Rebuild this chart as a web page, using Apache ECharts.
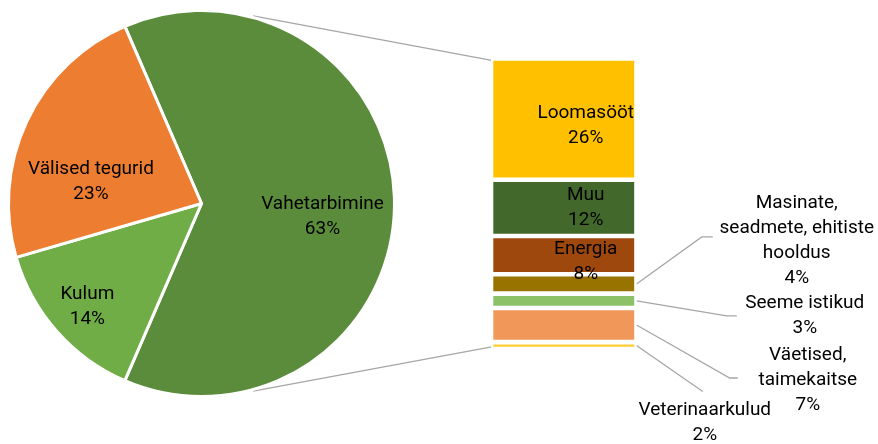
<!DOCTYPE html>
<html>
<head>
<meta charset="utf-8">
<script src="https://cdn.jsdelivr.net/npm/echarts@6/dist/echarts.min.js"></script>
<style>
html, body { margin: 0; padding: 0; background: #fff; }
#chart { width: 878px; height: 444px; }
</style>
</head>
<body>
<div id="chart"></div>
<script>
var pieNames = ['Vahetarbimine', 'Kulum', 'Välised tegurid'];
var pieValues = [63, 14, 23];
var barNames = ['Loomasööt', 'Muu', 'Energia', 'Masinate,\nseadmete, ehitiste\nhooldus', 'Seeme istikud', 'Väetised,\ntaimekaitse', 'Veterinaarkulud'];
var barValues = [26.3, 12.2, 8.3, 4.2, 3.1, 7.4, 1.5];
var pieColors = ['#5b8c3b', '#70ad47', '#ed7d31'];
var barColors = ['#ffc000', '#43682b', '#9e480e', '#997300', '#8cc168', '#f1975a', '#ffcd33'];

// layout
var PIE_CX = 201.5, PIE_CY = 203.5, PIE_R = 193;
var GRID_LEFT = 491, GRID_TOP = 58.4, GRID_W = 145.5, GRID_H = 290.6;
var BAR_BORDER = 2.3;
var LINE_ANGLE = 74.6;

// label shifts (px) from the default inside position
var pieLabelShift = [[21.5, 13.5], [-39.5, 37], [-20.5, 21]];
var barLabelShift = [[22, 7], [22, 0], [22, 7], [233, -43], [241, 15], [244, 55], [141, 77]];
// leader line: elbow dx, dy, end dx, dy relative to label centre
var leaderPts = [null, null, null, [-95, -4, -84, -4], [-78, 0, -68, 0], [-78, -2, -70, -2], [-2, -31, -2, -31]];

var total = pieValues.reduce(function (a, b) { return a + b; }, 0);
var barTotal = barValues.reduce(function (a, b) { return a + b; }, 0);

var textStyle = { fontFamily: 'Roboto', fontSize: 19, lineHeight: 25, color: '#000' };

var chart = echarts.init(document.getElementById('chart'));

var series = [{
  type: 'pie',
  center: [PIE_CX, PIE_CY],
  radius: PIE_R,
  startAngle: pieValues[0] / total * 180,
  clockwise: true,
  silent: true,
  data: pieNames.map(function (n, i) {
    return { name: n, value: pieValues[i], itemStyle: { color: pieColors[i] } };
  }),
  itemStyle: { borderColor: '#fff', borderWidth: 3 },
  label: Object.assign({
    show: true,
    position: 'inside',
    formatter: function (p) { return p.name + '\n' + Math.round(p.percent) + '%'; }
  }, textStyle),
  labelLine: { show: false },
  labelLayout: function (p) {
    return { dx: pieLabelShift[p.dataIndex][0], dy: pieLabelShift[p.dataIndex][1] };
  }
}];

barNames.forEach(function (n, i) {
  series.push({
    type: 'bar',
    name: n,
    stack: 'vahe',
    barWidth: '100%',
    silent: true,
    data: [barValues[i]],
    itemStyle: { color: barColors[i], borderColor: '#fff', borderWidth: BAR_BORDER },
    label: Object.assign({
      show: true,
      position: 'inside',
      align: 'center',
      formatter: n + '\n' + Math.round(barValues[i] / total * 100) + '%'
    }, textStyle),
    labelLayout: { dx: barLabelShift[i][0], dy: barLabelShift[i][1] }
  });
});

// connector lines
var lineStyle = { stroke: '#a6a6a6', lineWidth: 1.3, fill: null };
var graphics = [];
var a = LINE_ANGLE * Math.PI / 180;
var rr = PIE_R + 1.5;
var px = PIE_CX + rr * Math.cos(a);
graphics.push({
  type: 'polyline', silent: true,
  shape: { points: [[px, PIE_CY - rr * Math.sin(a)], [GRID_LEFT + 2, GRID_TOP + BAR_BORDER]] },
  style: lineStyle
});
graphics.push({
  type: 'polyline', silent: true,
  shape: { points: [[px, PIE_CY + rr * Math.sin(a)], [GRID_LEFT + 2, GRID_TOP + GRID_H - BAR_BORDER]] },
  style: lineStyle
});

var cum = 0;
var barCx = GRID_LEFT + GRID_W / 2;
barValues.forEach(function (v, i) {
  var mid = GRID_TOP + (cum + v / 2) / barTotal * GRID_H;
  cum += v;
  var lp = leaderPts[i];
  if (!lp) return;
  var lx = barCx + barLabelShift[i][0], ly = mid + barLabelShift[i][1];
  graphics.push({
    type: 'polyline', silent: true,
    shape: { points: [[GRID_LEFT + GRID_W, mid], [lx + lp[0], ly + lp[1]], [lx + lp[2], ly + lp[3]]] },
    style: lineStyle
  });
});

chart.setOption({
  animation: false,
  grid: { left: GRID_LEFT, top: GRID_TOP, width: GRID_W, height: GRID_H },
  xAxis: { type: 'category', data: ['Vahetarbimine'], show: false },
  yAxis: { type: 'value', min: 0, max: barTotal, inverse: true, show: false },
  series: series,
  graphic: graphics
});
</script>
</body>
</html>
